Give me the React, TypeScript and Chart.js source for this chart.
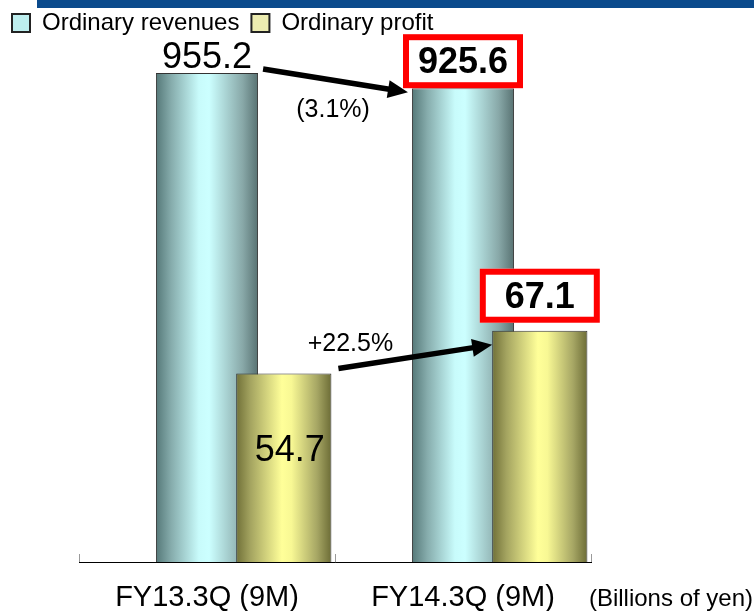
import React, { useEffect, useRef } from 'react';
import { Chart, registerables } from 'chart.js';

Chart.register(...registerables);

// ---------- data ----------
const categories = ['FY13.3Q (9M)', 'FY14.3Q (9M)'];
const seriesNames = ['Ordinary revenues', 'Ordinary profit'];
const revenues = [955.2, 925.6];
const profits = [54.7, 67.1];
const changeLabels = ['(3.1%)', '+22.5%'];
const highlighted = [false, true];
const unitLabel = '(Billions of yen)';
const revenueAxisMax = 1010;
const profitAxisMax = 150;
const emptySlot = [null, null];

// ---------- styles ----------
const FONT = 'Arial, "Liberation Sans", Helvetica, sans-serif';
// dataset indices (slot spacers first so revenue sits in the centre slot, profit in the right slot,
// and profit comes before revenue in draw-sort order so it is painted on top)
const PROFIT = 2;
const REVENUE = 3;

const revenueStops: [number, string][] = [
  [0, '#557878'], [0.15, '#86acac'], [0.42, '#c8fbfb'], [0.52, '#ccffff'], [0.85, '#88a8a8'], [1, '#587272'],
];
const profitStops: [number, string][] = [
  [0, '#707038'], [0.15, '#a4a460'], [0.48, '#ffff99'], [0.58, '#f8f894'], [0.85, '#a6a664'], [1, '#6c6c36'],
];

function drawArrow(ctx: CanvasRenderingContext2D, x1: number, y1: number, x2: number, y2: number) {
  const ang = Math.atan2(y2 - y1, x2 - x1);
  const cos = Math.cos(ang), sin = Math.sin(ang);
  const headLen = 20, headW = 9;
  const bx = x2 - headLen * cos, by = y2 - headLen * sin;
  ctx.save();
  ctx.strokeStyle = '#000';
  ctx.fillStyle = '#000';
  ctx.lineWidth = 5.5;
  ctx.beginPath();
  ctx.moveTo(x1, y1);
  ctx.lineTo(bx + cos, by + sin);
  ctx.stroke();
  ctx.beginPath();
  ctx.moveTo(x2, y2);
  ctx.lineTo(bx + headW * sin, by - headW * cos);
  ctx.lineTo(bx - headW * sin, by + headW * cos);
  ctx.closePath();
  ctx.fill();
  ctx.restore();
}

function drawBoxedValue(ctx: CanvasRenderingContext2D, text: string, cx: number, bottom: number) {
  const w = 120, h = 54, lw = 6;
  const left = cx - w / 2, top = bottom - h;
  ctx.save();
  ctx.fillStyle = '#fff';
  ctx.fillRect(left, top, w, h);
  ctx.strokeStyle = '#ff0000';
  ctx.lineWidth = lw;
  ctx.strokeRect(left + lw / 2, top + lw / 2, w - lw, h - lw);
  ctx.fillStyle = '#000';
  ctx.font = `bold 36px ${FONT}`;
  ctx.textAlign = 'center';
  ctx.textBaseline = 'middle';
  ctx.fillText(text, cx, top + h / 2 + 2);
  ctx.restore();
}

const decorations = {
  id: 'decorations',
  beforeDatasetDraw(chart: any, args: any) {
    const meta = args.meta;
    const stops = meta.index === REVENUE ? revenueStops : meta.index === PROFIT ? profitStops : null;
    if (!stops) return;
    const ctx = chart.ctx as CanvasRenderingContext2D;
    meta.data.forEach((el: any) => {
      const { x, width } = el.getProps(['x', 'width'], true);
      if (!isFinite(x) || !isFinite(width)) return;
      const g = ctx.createLinearGradient(x - width / 2, 0, x + width / 2, 0);
      stops.forEach(([o, c]) => g.addColorStop(o, c));
      el.options = { ...el.options, backgroundColor: g };
    });
  },
  afterDatasetsDraw(chart: any) {
    const ctx = chart.ctx as CanvasRenderingContext2D;
    const rev = chart.getDatasetMeta(REVENUE).data.map((el: any) => el.getProps(['x', 'y', 'base', 'width'], true));
    const pro = chart.getDatasetMeta(PROFIT).data.map((el: any) => el.getProps(['x', 'y', 'base', 'width'], true));

    // arrows + change labels
    const r0 = rev[0], r1 = rev[1], p0 = pro[0], p1 = pro[1];
    const a1 = { x1: r0.x + r0.width / 2 + 5, y1: r0.y - 4, x2: r1.x - r1.width / 2 - 4, y2: r1.y + 4 };
    const a2 = { x1: p0.x + p0.width / 2 + 7, y1: p0.y - 5, x2: p1.x - p1.width / 2, y2: p1.y + 14 };
    drawArrow(ctx, a1.x1, a1.y1, a1.x2, a1.y2);
    drawArrow(ctx, a2.x1, a2.y1, a2.x2, a2.y2);

    ctx.save();
    ctx.fillStyle = '#000';
    ctx.textAlign = 'center';
    ctx.textBaseline = 'alphabetic';
    ctx.font = `25px ${FONT}`;
    ctx.fillText(changeLabels[0], a1.x1 + 70, a1.y1 + 48);
    ctx.fillText(changeLabels[1], a2.x1 + 12, a2.y1 - 17);

    // value labels
    rev.forEach((b: any, i: number) => {
      const txt = revenues[i].toFixed(1);
      if (highlighted[i]) {
        drawBoxedValue(ctx, txt, b.x, b.y);
      } else {
        ctx.font = `36px ${FONT}`;
        ctx.textAlign = 'center';
        ctx.textBaseline = 'alphabetic';
        ctx.fillStyle = '#000';
        ctx.fillText(txt, b.x, b.y - 5);
      }
    });
    pro.forEach((b: any, i: number) => {
      const txt = profits[i].toFixed(1);
      if (highlighted[i]) {
        drawBoxedValue(ctx, txt, b.x, b.y - 8);
      } else {
        ctx.font = `36px ${FONT}`;
        ctx.textAlign = 'center';
        ctx.textBaseline = 'middle';
        ctx.fillStyle = '#000';
        ctx.fillText(txt, b.x + 6, b.y + (b.base - b.y) * 0.41);
      }
    });

    // unit label
    ctx.font = `24px ${FONT}`;
    ctx.fillStyle = '#000';
    ctx.textAlign = 'right';
    ctx.textBaseline = 'alphabetic';
    ctx.fillText(unitLabel, chart.width - 1, chart.chartArea.bottom + 44);
    ctx.restore();
  },
};

export default function App() {
  const ref = useRef<HTMLCanvasElement>(null);
  useEffect(() => {
    if (!ref.current) return;
    Chart.defaults.font.family = FONT;
    const chart = new Chart(ref.current, {
      type: 'bar',
      data: {
        labels: categories,
        datasets: [
          { label: '', data: emptySlot, stack: 'left', yAxisID: 'y', categoryPercentage: 0.9 } as any,
          { label: '', data: emptySlot, stack: 'centre', yAxisID: 'y', categoryPercentage: 0.9 } as any,
          {
            label: seriesNames[1], data: profits, stack: 'right', yAxisID: 'y2',
            backgroundColor: '#ececb0', borderColor: '#333', borderWidth: 1,
            categoryPercentage: 0.9, barPercentage: 1.24,
          },
          {
            label: seriesNames[0], data: revenues, stack: 'centre', yAxisID: 'y',
            backgroundColor: '#bdeeee', borderColor: '#333', borderWidth: 1,
            categoryPercentage: 0.9, barPercentage: 1.33,
          },
        ],
      },
      options: {
        responsive: false,
        animation: false,
        events: [],
        layout: { padding: { top: -1, left: 0, right: 0, bottom: 0 } },
        plugins: {
          tooltip: { enabled: false },
          legend: {
            display: true,
            position: 'top',
            align: 'start',
            labels: {
              boxWidth: 18,
              boxHeight: 18,
              padding: 12,
              color: '#000',
              font: { size: 24, family: FONT },
              generateLabels: (c: any) =>
                Chart.defaults.plugins.legend.labels.generateLabels(c).map((l: any) => ({
                  ...l, lineWidth: 2, strokeStyle: '#222',
                })),
              filter: (item: any) => item.text !== '',
              sort: (a: any, b: any) => b.datasetIndex - a.datasetIndex,
            },
          },
        },
        scales: {
          x: {
            type: 'category',
            labels: categories,
            position: 'bottom',
            offset: true,
            grid: { display: true, offset: true, drawOnChartArea: false, drawTicks: true, tickLength: -8, color: '#9a9a9a', lineWidth: 1 },
            border: { display: true, color: '#000', width: 1 },
            ticks: { color: '#000', font: { size: 29, family: FONT }, padding: 27, maxRotation: 0, autoSkip: false },
            afterFit: (s: any) => { s.height = 49; },
          },
          y: {
            type: 'linear', position: 'left', min: 0, max: revenueAxisMax, stacked: false,
            grid: { display: false }, border: { display: false }, ticks: { display: false },
            afterFit: (s: any) => { s.width = 79; },
          },
          y2: {
            type: 'linear', position: 'right', min: 0, max: profitAxisMax, stacked: false,
            grid: { display: false }, border: { display: false }, ticks: { display: false },
            afterFit: (s: any) => { s.width = 163; },
          },
        },
      } as any,
      plugins: [decorations],
    });
    return () => chart.destroy();
  }, []);

  return (
    <div style={{ position: 'absolute', left: 0, top: 0, width: 754, height: 611, background: '#fff', overflow: 'hidden' }}>
      <canvas ref={ref} width={754} height={611} style={{ display: 'block', width: 754, height: 611 }} />
      <div style={{ position: 'absolute', left: 37, top: 0, width: 717, height: 8, background: '#0a4a8c' }} />
    </div>
  );
}
